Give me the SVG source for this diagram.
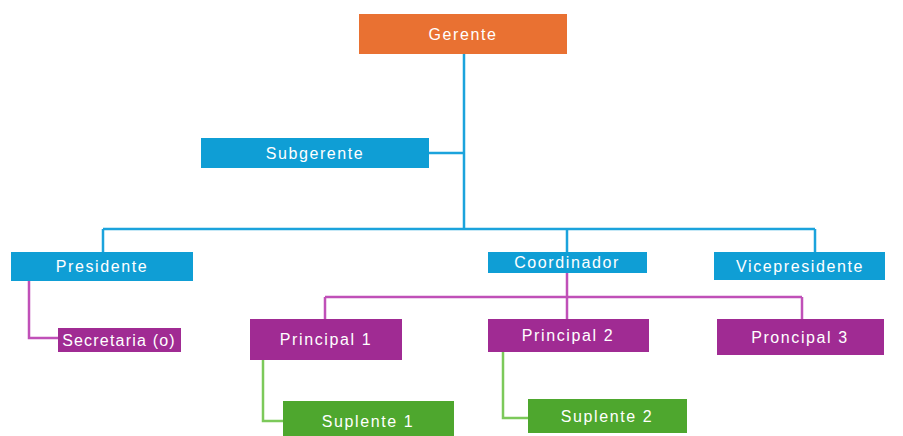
<svg xmlns="http://www.w3.org/2000/svg" width="903" height="436" viewBox="0 0 903 436">
<style>
text{font-family:"Liberation Sans",Arial,sans-serif;font-size:16px;fill:#ffffff;text-anchor:middle;dominant-baseline:central;letter-spacing:1.6px}
.o{fill:#E97132}.b{fill:#0F9ED5}.p{fill:#A02B93}.g{fill:#4EA72E}
.lb{stroke:#1BA3DC;stroke-width:2.5;fill:none}
.lp{stroke:#C050B8;stroke-width:2.5;fill:none}
.lg{stroke:#7CC95A;stroke-width:2.5;fill:none}
</style>
<rect width="903" height="436" fill="#ffffff"/>
<g id="connectors">
<path class="lb" d="M464 54V229M429 153H464M103 229H815M103 229V252M567 229V252M815 229V252"/>
<path class="lp" d="M29 281V338H58M567 273V319M325 297H802M325 297V319M802 297V319"/>
<path class="lg" d="M263 360V421H283M503 352V418H528"/>
</g>
<g id="gerente"><rect class="o" x="359" y="14" width="208" height="40"/><text x="463" y="34">Gerente</text></g>
<g id="subgerente"><rect class="b" x="201" y="138" width="228" height="30"/><text x="315" y="153">Subgerente</text></g>
<g id="presidente"><rect class="b" x="11" y="252" width="182" height="29"/><text x="102" y="266">Presidente</text></g>
<g id="coordinador"><rect class="b" x="488" y="252" width="159" height="21"/><text x="567" y="262">Coordinador</text></g>
<g id="vicepresidente"><rect class="b" x="714" y="252" width="171" height="28"/><text x="800" y="266">Vicepresidente</text></g>
<g id="secretaria"><rect class="p" x="58" y="328" width="123" height="24"/><text x="119" y="340" style="letter-spacing:1.2px">Secretaria (o)</text></g>
<g id="principal1"><rect class="p" x="250" y="319" width="152" height="41"/><text x="326" y="339">Principal 1</text></g>
<g id="principal2"><rect class="p" x="488" y="319" width="161" height="33"/><text x="568" y="335">Principal 2</text></g>
<g id="proncipal3"><rect class="p" x="717" y="319" width="167" height="36"/><text x="800" y="337">Proncipal 3</text></g>
<g id="suplente1"><rect class="g" x="283" y="401" width="171" height="35"/><text x="368" y="421">Suplente 1</text></g>
<g id="suplente2"><rect class="g" x="528" y="399" width="159" height="34"/><text x="607" y="416">Suplente 2</text></g>
</svg>
